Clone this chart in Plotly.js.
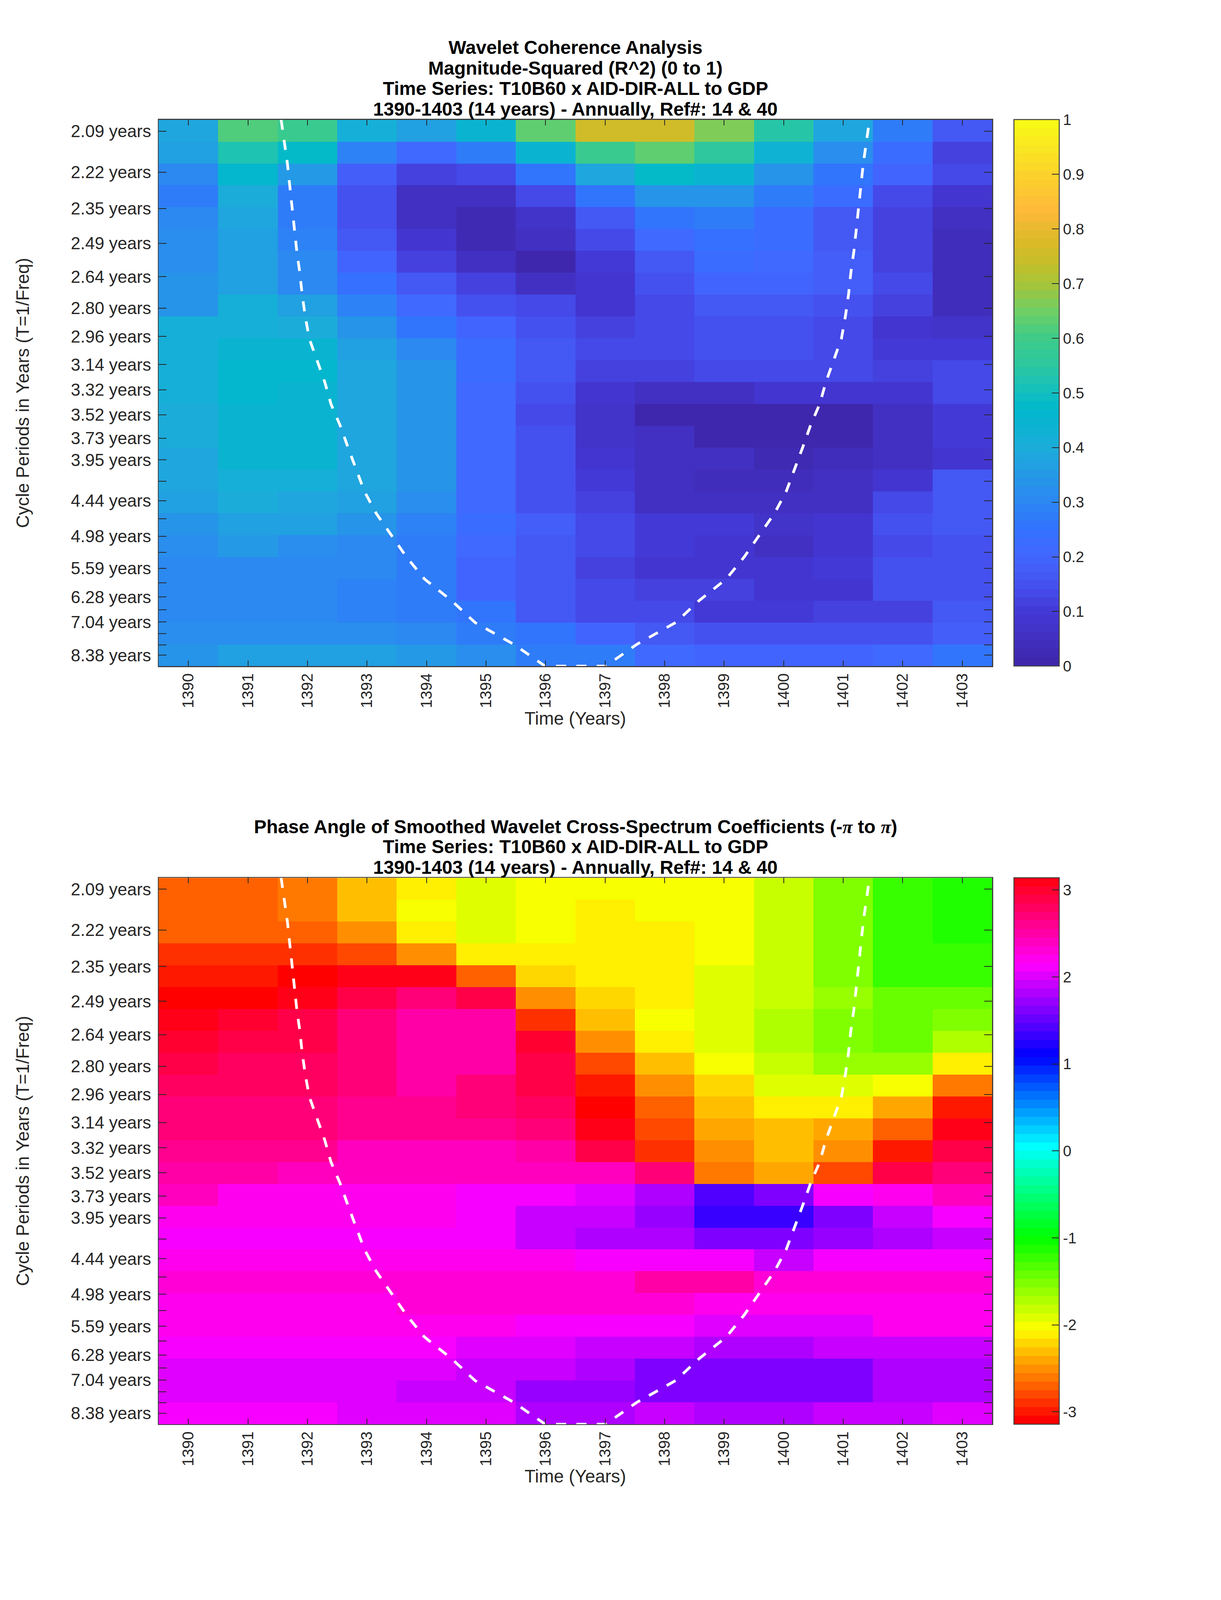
<!DOCTYPE html>
<html><head><meta charset="utf-8">
<script src="https://cdn.plot.ly/plotly-3.0.1.min.js"></script>
<style>html,body{margin:0;padding:0;background:#fff;overflow:hidden}#chart{width:100vw;height:100vh}</style>
</head><body><div id="chart"></div>
<script>
const years=[1390,1391,1392,1393,1394,1395,1396,1397,1398,1399,1400,1401,1402,1403];
const tickPeriods=[2.09,2.22,2.35,2.49,2.64,2.80,2.96,3.14,3.32,3.52,3.73,3.95,4.19,4.44,4.70,4.98,5.27,5.59,5.92,6.28,6.65,7.04,7.46,7.91,8.38];
const tickLabels=['2.09 years','2.22 years','2.35 years','2.49 years','2.64 years','2.80 years','2.96 years','3.14 years','3.32 years','3.52 years','3.73 years','3.95 years','','4.44 years','','4.98 years','','5.59 years','','6.28 years','','7.04 years','','','8.38 years'];
const freqTop=0.4863, freqBottom=0.1118;
const coherence=[
[.39,.62,.585,.42,.36,.44,.64,.765,.765,.67,.54,.39,.27,.16],
[.36,.53,.47,.29,.21,.28,.44,.59,.64,.56,.43,.32,.22,.12],
[.31,.46,.35,.18,.115,.14,.26,.38,.48,.44,.33,.25,.19,.125],
[.28,.40,.28,.15,.05,.05,.14,.26,.33,.33,.28,.22,.13,.08],
[.31,.38,.27,.15,.06,.03,.07,.17,.25,.28,.23,.17,.12,.05],
[.315,.37,.29,.17,.09,.03,.05,.125,.21,.24,.22,.16,.12,.04],
[.32,.36,.30,.20,.12,.05,.015,.10,.17,.23,.21,.18,.12,.04],
[.33,.37,.31,.24,.16,.12,.05,.09,.15,.19,.20,.18,.125,.045],
[.33,.41,.36,.29,.21,.15,.13,.085,.14,.16,.165,.155,.11,.045],
[.41,.41,.40,.34,.26,.20,.15,.115,.13,.155,.155,.14,.08,.065],
[.42,.45,.44,.37,.31,.23,.17,.14,.14,.15,.15,.13,.10,.10],
[.41,.46,.46,.39,.33,.23,.17,.12,.11,.13,.14,.13,.11,.13],
[.41,.46,.45,.39,.33,.21,.15,.09,.06,.06,.08,.08,.09,.13],
[.40,.45,.45,.39,.33,.21,.13,.07,.01,.01,.01,.01,.05,.10],
[.40,.45,.45,.39,.33,.21,.15,.07,.05,.01,.01,.01,.05,.10],
[.39,.44,.44,.38,.33,.21,.15,.08,.06,.06,.02,.04,.05,.09],
[.39,.42,.42,.38,.33,.21,.15,.10,.05,.04,.04,.05,.08,.16],
[.37,.40,.38,.37,.32,.21,.15,.12,.06,.05,.05,.06,.14,.16],
[.34,.37,.36,.34,.29,.22,.18,.14,.10,.10,.07,.09,.15,.17],
[.32,.35,.32,.31,.27,.21,.16,.14,.10,.09,.06,.08,.14,.15],
[.31,.31,.31,.30,.27,.20,.16,.12,.09,.09,.09,.10,.15,.15],
[.30,.30,.30,.29,.27,.20,.16,.14,.12,.11,.09,.09,.15,.15],
[.30,.30,.30,.29,.27,.25,.17,.13,.13,.10,.10,.11,.12,.16],
[.32,.32,.32,.32,.30,.28,.25,.19,.16,.15,.15,.15,.15,.18],
[.34,.36,.36,.36,.35,.32,.28,.28,.21,.20,.19,.19,.21,.25]];
const phase=[
[-2.67,-2.67,-2.57,-2.31,-2.11,-1.92,-2.0,-2.0,-2.0,-2.0,-1.82,-1.55,-1.27,-1.14],
[-2.67,-2.67,-2.57,-2.31,-1.98,-1.92,-2.0,-2.15,-2.0,-2.0,-1.82,-1.55,-1.27,-1.14],
[-2.67,-2.67,-2.67,-2.5,-2.11,-1.92,-2.0,-2.15,-2.15,-2.0,-1.82,-1.55,-1.27,-1.14],
[-2.9,-2.9,-2.9,-2.8,-2.5,-2.11,-2.11,-2.11,-2.11,-2.0,-1.82,-1.55,-1.27,-1.2],
[-3.0,-3.0,-3.1,3.05,3.05,-2.7,-2.21,-2.11,-2.11,-1.92,-1.82,-1.55,-1.27,-1.2],
[-3.1,-3.1,3.09,2.93,2.71,2.93,-2.5,-2.21,-2.11,-1.92,-1.82,-1.62,-1.42,-1.42],
[3.05,2.98,2.93,2.71,2.55,2.55,-2.87,-2.31,-2.01,-1.92,-1.73,-1.52,-1.42,-1.52],
[2.98,2.93,2.88,2.71,2.55,2.55,2.98,-2.47,-2.11,-1.92,-1.73,-1.52,-1.42,-1.73],
[2.93,2.8,2.8,2.71,2.55,2.55,2.93,-2.8,-2.31,-2.0,-1.82,-1.58,-1.58,-2.11],
[2.8,2.8,2.8,2.71,2.55,2.71,2.93,-3.0,-2.47,-2.2,-1.92,-1.92,-2.0,-2.57],
[2.72,2.72,2.72,2.6,2.6,2.72,2.8,-3.1,-2.7,-2.31,-2.11,-2.11,-2.4,-3.0],
[2.67,2.67,2.67,2.6,2.6,2.6,2.67,3.05,-2.8,-2.4,-2.31,-2.4,-2.7,3.05],
[2.58,2.58,2.58,2.45,2.45,2.45,2.5,2.85,-2.9,-2.5,-2.31,-2.5,-2.95,2.85],
[2.48,2.48,2.38,2.38,2.38,2.38,2.38,2.45,2.72,-2.57,-2.4,-2.8,2.93,2.67],
[2.45,2.18,2.18,2.18,2.18,2.14,2.14,1.98,1.8,1.45,1.58,2.14,2.18,2.42],
[2.18,2.18,2.18,2.18,2.16,2.14,1.93,1.88,1.68,1.36,1.36,1.62,1.88,2.14],
[2.15,2.15,2.15,2.15,2.15,2.14,1.92,1.85,1.78,1.62,1.62,1.75,1.85,1.95],
[2.16,2.16,2.16,2.16,2.16,2.16,2.16,2.14,2.14,2.14,1.95,2.14,2.14,2.14],
[2.35,2.35,2.35,2.35,2.35,2.35,2.35,2.35,2.48,2.48,2.35,2.35,2.35,2.35],
[2.17,2.17,2.17,2.17,2.3,2.3,2.3,2.3,2.3,2.17,2.17,2.17,2.17,2.17],
[2.18,2.18,2.18,2.18,2.18,2.18,2.14,2.14,2.14,2.02,2.02,2.02,2.18,2.18],
[2.14,2.14,2.14,2.14,2.14,2.0,2.0,1.9,1.9,1.78,1.78,1.9,1.9,1.95],
[2.0,2.0,2.0,2.0,2.0,1.88,1.88,1.78,1.63,1.63,1.63,1.63,1.78,1.85],
[2.0,2.0,2.0,2.0,1.88,1.88,1.73,1.73,1.63,1.63,1.63,1.63,1.78,1.85],
[2.12,2.12,2.12,2.0,2.0,2.0,1.85,1.85,1.9,1.78,1.78,1.9,1.9,1.97]];
const coiYear=[1391.558,1391.610,1391.663,1391.702,1391.741,1391.780,1391.820,1391.872,1391.911,1391.964,1392.029,1392.160,1392.291,1392.395,1392.552,1392.683,1392.814,1392.957,1393.154,1393.415,1393.664,1393.964,1394.422,1394.815,1395.469,1395.992,
1397.008,1397.531,1398.185,1398.578,1399.036,1399.336,1399.585,1399.846,1400.043,1400.186,1400.317,1400.448,1400.605,1400.709,1400.840,1400.971,1401.036,1401.089,1401.128,1401.180,1401.220,1401.259,1401.298,1401.337,1401.390,1401.442];
const coiFreq=[.4863,.4713,.4563,.4414,.4264,.4114,.3964,.3814,.3664,.3514,.3365,.3215,.3065,.2915,.2765,.2615,.2466,.2316,.2166,.2016,.1866,.1716,.1567,.1417,.1267,.1118,
.1118,.1267,.1417,.1567,.1716,.1866,.2016,.2166,.2316,.2466,.2615,.2765,.2915,.3065,.3215,.3365,.3514,.3664,.3814,.3964,.4114,.4264,.4414,.4563,.4713,.4863];
const parulaAnchors=[[0,'#3d26a8'],[.05,'#422fc0'],[.1,'#4338d6'],[.15,'#4552f0'],[.2,'#4266ff'],[.25,'#3272ff'],[.3,'#2c87f2'],[.35,'#2499e6'],[.4,'#1cadda'],[.47,'#00b8cc'],[.5,'#12bfc0'],[.55,'#2cc7a0'],[.6,'#3ecb88'],[.65,'#70cf64'],[.7,'#a8c438'],[.73,'#bfc02c'],[.77,'#d8ba26'],[.8,'#e8ba2e'],[.83,'#ffb83a'],[.9,'#fbd32c'],[1,'#f9fb15']];
const titleTop=['Wavelet Coherence Analysis','Magnitude-Squared (R^2) (0 to 1)','Time Series: T10B60 x AID-DIR-ALL to GDP','1390-1403 (14 years) - Annually, Ref#: 14 &amp; 40'];
const piMark='<span style="font-family:\'Liberation Serif\';font-style:italic">π</span>';
const titleBottom=['Phase Angle of Smoothed Wavelet Cross-Spectrum Coefficients (-'+piMark+' to '+piMark+')','Time Series: T10B60 x AID-DIR-ALL to GDP','1390-1403 (14 years) - Annually, Ref#: 14 &amp; 40'];

// The window is capped at 3125x4096: the reference layout (3125x6252) is kept proportionally.
const W=3125,RH=6252,H=Math.min(window.innerHeight||4096,RH),L=406,R=2539,CBL=2595,CBW=116,PH=2135;
const S=H/RH,fontS=S<1?0.75:1;
const top1=468,top2=3430;
const fy=p=>1-p/RH;
const nRows=coherence.length;
const rowFreq=coherence.map((_,k)=>freqTop-(k+.5)*(freqTop-freqBottom)/nRows);
const hex=h=>[1,3,5].map(i=>parseInt(h.substr(i,2),16));
function lerpColor(t){let i=0;while(i<parulaAnchors.length-2&&t>parulaAnchors[i+1][0])i++;
 const [a,ca]=parulaAnchors[i],[b,cb]=parulaAnchors[i+1],u=(t-a)/(b-a),A=hex(ca),B=hex(cb);
 return 'rgb('+A.map((v,j)=>Math.round(v+(B[j]-v)*u)).join(',')+')';}
function hsvColor(t){const h=t*6,i=Math.floor(h)%6,f=h-Math.floor(h),q=255*(1-f),u=255*f;
 const c=[[255,u,0],[q,255,0],[0,255,u],[0,q,255],[u,0,255],[255,0,q]][i];return 'rgb('+c.map(Math.round).join(',')+')';}
function stepped(fn,off){const s=[];for(let i=0;i<64;i++){const c=fn((i+off)/64);s.push([i/64,c],[(i+1)/64,c]);}return s;}
const ink='#262626';
function heat(z,xa,ya,top,zmin,zmax,fn,off,tv,tt){return {type:'heatmap',z,x:years,y:rowFreq,xaxis:xa,yaxis:ya,zmin,zmax,colorscale:stepped(fn,off),
 colorbar:{x:CBL/W,xanchor:'left',xpad:0,ypad:0,thicknessmode:'pixels',thickness:CBW,lenmode:'fraction',len:PH/RH,y:fy(top+PH),yanchor:'bottom',outlinecolor:'#404040',outlinewidth:2.5,ticks:'inside',ticklen:20,tickwidth:2,tickcolor:ink,tickvals:tv,ticktext:tt,tickfont:{family:'Liberation Sans',size:52*fontS,color:ink}}};}
function coi(xa,ya){return {type:'scatter',mode:'lines',x:coiYear,y:coiFreq,xaxis:xa,yaxis:ya,line:{color:'#fff',width:7,dash:'26px,26px',shape:'linear'},hoverinfo:'skip',showlegend:false};}
const data=[
 heat(coherence,'x','y',top1,0,1,lerpColor,.5,[0,.1,.2,.3,.4,.5,.6,.7,.8,.9,1],['0','0.1','0.2','0.3','0.4','0.5','0.6','0.7','0.8','0.9','1']),
 coi('x','y'),
 heat(phase,'x2','y2',top2,-Math.PI,Math.PI,hsvColor,0,[-3,-2,-1,0,1,2,3],['-3','-2','-1','0','1','2','3']),
 coi('x2','y2')];
function xax(anchor){return {anchor,domain:[L/W,R/W],range:[1389.5,1403.5],tickmode:'array',tickvals:years,ticktext:years.map(String),tickangle:-90,ticks:'inside',ticklen:14,tickwidth:2,tickcolor:ink,mirror:'ticks',showline:true,linecolor:'#404040',linewidth:2.5,showgrid:false,zeroline:false,tickfont:{family:'Liberation Sans',size:40,color:ink},title:{text:'Time (Years)',font:{family:'Liberation Sans',size:46,color:ink},standoff:8}};}
function yax(anchor,top){return {anchor,domain:[fy(top+PH),fy(top)],range:[freqBottom,freqTop],tickmode:'array',tickvals:tickPeriods.map(p=>1/p),ticktext:tickLabels,ticks:'inside',ticklen:20,tickwidth:2,tickcolor:ink,mirror:'ticks',showline:true,linecolor:'#404040',linewidth:2.5,showgrid:false,zeroline:false,ticklabelstandoff:8,tickfont:{family:'Liberation Sans',size:44,color:ink},title:{text:'Cycle Periods in Years (T=1/Freq)',font:{family:'Liberation Sans',size:46,color:ink},standoff:92}};}
const ann=(t,px)=>({text:t,xref:'paper',yref:'paper',x:(L+R)/2/W,y:fy(px),xanchor:'center',yanchor:'middle',showarrow:false,borderpad:0,font:{family:'Liberation Sans',size:48,color:'#000'}});
const bl1=[207,288,368,449],bl2=[3252,3331,3412];
const annotations=[...titleTop.map((t,i)=>ann('<b>'+t+'</b>',bl1[i]-22)),...titleBottom.map((t,i)=>ann('<b>'+t+'</b>',bl2[i]-22))];
const layout={width:W,height:H,margin:{l:0,r:0,t:0,b:0,pad:0},paper_bgcolor:'#fff',plot_bgcolor:'#fff',showlegend:false,
 xaxis:xax('y'),yaxis:yax('x',top1),xaxis2:xax('y2'),yaxis2:yax('x2',top2),annotations};
Plotly.newPlot('chart',data,layout,{displayModeBar:false,staticPlot:true});
</script></body></html>
